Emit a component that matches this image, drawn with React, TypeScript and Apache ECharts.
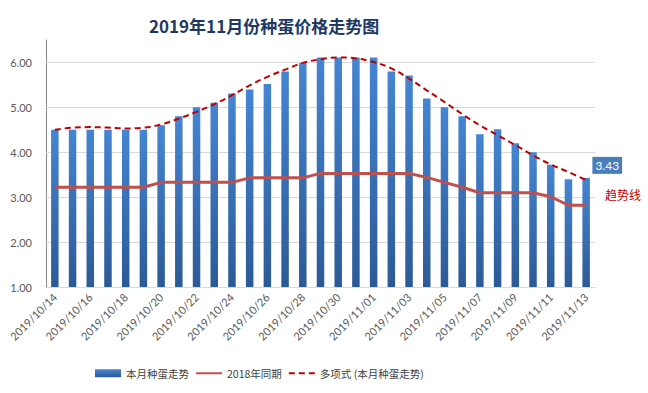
import React, { useEffect, useRef } from "react";
import * as echarts from "echarts";

const titleText = "2019年11月份种蛋价格走势图";
const categories = [
  "2019/10/14", "2019/10/15", "2019/10/16", "2019/10/17", "2019/10/18", "2019/10/19",
  "2019/10/20", "2019/10/21", "2019/10/22", "2019/10/23", "2019/10/24", "2019/10/25",
  "2019/10/26", "2019/10/27", "2019/10/28", "2019/10/29", "2019/10/30", "2019/10/31",
  "2019/11/01", "2019/11/02", "2019/11/03", "2019/11/04", "2019/11/05", "2019/11/06",
  "2019/11/07", "2019/11/08", "2019/11/09", "2019/11/10", "2019/11/11", "2019/11/12",
  "2019/11/13",
];
const thisMonth = [
  4.5, 4.5, 4.5, 4.5, 4.5, 4.5, 4.6, 4.8, 5.0, 5.1, 5.31, 5.4, 5.52, 5.8, 5.99, 6.11,
  6.11, 6.11, 6.11, 5.8, 5.71, 5.2, 5.0, 4.8, 4.4, 4.51, 4.2, 4.0, 3.72, 3.4, 3.43,
];
const lastYear = [
  3.22, 3.22, 3.22, 3.22, 3.22, 3.22, 3.33, 3.33, 3.33, 3.33, 3.33, 3.43, 3.43, 3.43, 3.43,
  3.53, 3.53, 3.53, 3.53, 3.53, 3.53, 3.44, 3.33, 3.22, 3.1, 3.1, 3.1, 3.1, 3.01, 2.82, 2.82,
];
const trend = [
  4.5, 4.55, 4.56, 4.55, 4.53, 4.55, 4.62, 4.75, 4.9, 5.07, 5.27, 5.49, 5.68, 5.84, 5.99,
  6.07, 6.11, 6.09, 6.01, 5.87, 5.64, 5.38, 5.12, 4.85, 4.6, 4.38, 4.16, 3.93, 3.73, 3.56, 3.38,
];
const gridTicks = [2, 3, 4, 5, 6];
const seriesNames = ["本月种蛋走势", "2018年同期", "多项式 (本月种蛋走势)"];
const trendLabel = "趋势线";

const numFont = "Lato, 'Liberation Sans', 'Noto Sans CJK SC', sans-serif";
const cjkFont = "'Noto Sans CJK SC', 'Microsoft YaHei', sans-serif";

export default function App() {
  const ref = useRef<HTMLDivElement>(null);
  useEffect(() => {
    if (!ref.current) return;
    const chart = echarts.init(ref.current, undefined, { renderer: "svg" });
    const lastIdx = thisMonth.length - 1;
    chart.setOption({
      animation: false,
      backgroundColor: "#ffffff",
      title: {
        text: titleText,
        left: 144,
        top: 12,
        textStyle: {
          fontFamily: cjkFont,
          fontSize: 17,
          fontWeight: "bold",
          color: "#203864",
        },
      },
      legend: {
        left: 95,
        top: 368,
        padding: 0,
        itemWidth: 26,
        itemHeight: 8,
        itemGap: 6,
        textStyle: { fontFamily: cjkFont, fontSize: 10.5, color: "#404040" },
        data: [
          { name: seriesNames[0], icon: "rect" },
          { name: seriesNames[1], itemStyle: { opacity: 0 } },
          { name: seriesNames[2], itemStyle: { opacity: 0 } },
        ],
      },
      grid: { left: 46, right: 53, top: 40, bottom: 106, containLabel: false },
      xAxis: {
        type: "category",
        data: categories,
        axisLine: { show: true, lineStyle: { color: "#d9d9d9", width: 1 } },
        axisTick: { show: false },
        axisLabel: {
          interval: 1,
          rotate: 45,
          margin: 8,
          fontFamily: numFont,
          fontSize: 11,
          color: "#595959",
        },
      },
      yAxis: {
        type: "value",
        min: 1,
        max: 6.5,
        interval: 1,
        axisLine: { show: true, lineStyle: { color: "#888888", width: 1 } },
        axisTick: { show: false },
        splitLine: { show: false },
        axisLabel: {
          margin: 14,
          fontFamily: numFont,
          fontSize: 11,
          color: "#595959",
          formatter: (v: number) => (v > 6.01 ? "" : v.toFixed(2)),
        },
      },
      series: [
        {
          name: seriesNames[0],
          type: "bar",
          barWidth: 7.5,
          z: 2,
          itemStyle: {
            color: new echarts.graphic.LinearGradient(0, 0, 0, 1, [
              { offset: 0, color: "#4585d2" },
              { offset: 1, color: "#2c5a97" },
            ]),
          },
          data: thisMonth.map((v, i) =>
            i === lastIdx
              ? {
                  value: v,
                  label: {
                    show: true,
                    position: [10, -21],
                    formatter: (p: any) => Number(p.value).toFixed(2),
                    backgroundColor: "#4a7ebb",
                    color: "#ffffff",
                    fontFamily: numFont,
                    fontSize: 12,
                    padding: [3, 3, 2, 3],
                  },
                }
              : v
          ),
          markLine: {
            silent: true,
            symbol: "none",
            label: { show: false },
            z: 1,
            lineStyle: { color: "#d9d9d9", width: 1, type: "solid" },
            data: gridTicks.map((t) => ({ yAxis: t })),
          },
        },
        {
          name: seriesNames[1],
          type: "line",
          symbol: "none",
          z: 3,
          lineStyle: { color: "#c0504d", width: 3 },
          itemStyle: { color: "#c0504d" },
          data: lastYear,
        },
        {
          name: seriesNames[2],
          type: "line",
          symbol: "none",
          smooth: 0.4,
          z: 4,
          lineStyle: { color: "#c00000", width: 2, type: [6, 4] },
          itemStyle: { color: "#c00000" },
          data: trend,
        },
      ],
      graphic: [
        {
          type: "text",
          left: 605,
          top: 188,
          style: {
            text: trendLabel,
            fill: "#c00000",
            fontFamily: cjkFont,
            fontSize: 12,
          },
        },
      ],
    });
    return () => chart.dispose();
  }, []);
  return (
    <div
      ref={ref}
      style={{ position: "fixed", left: 0, top: 0, width: 648, height: 393 }}
    />
  );
}
